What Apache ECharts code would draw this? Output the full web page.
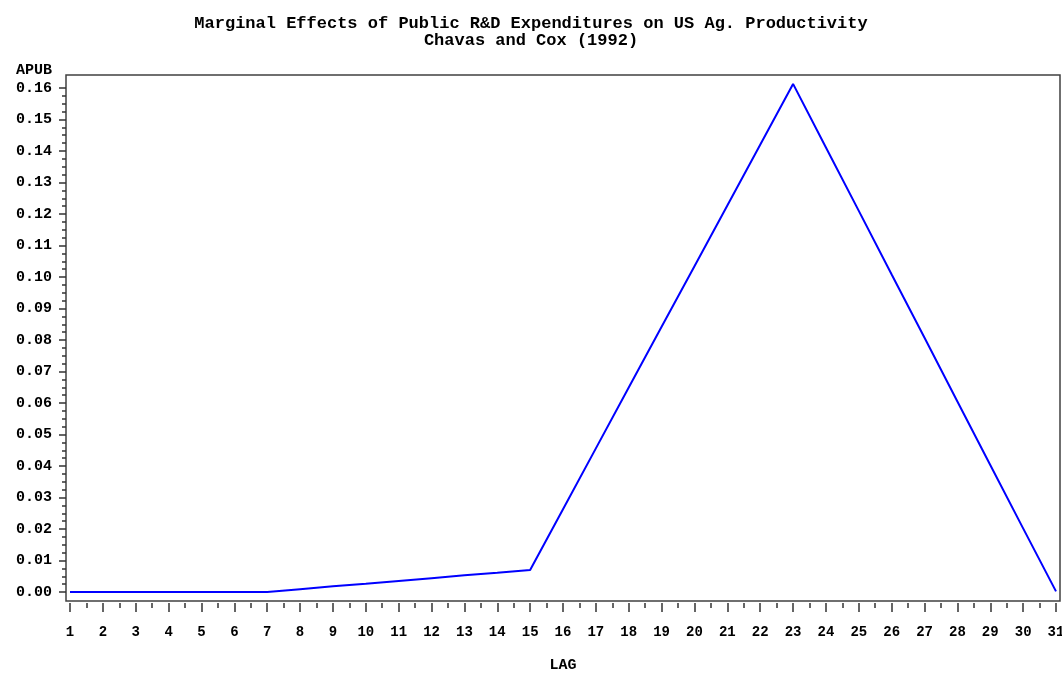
<!DOCTYPE html>
<html>
<head>
<meta charset="utf-8">
<script src="https://cdn.jsdelivr.net/npm/echarts@6/dist/echarts.min.js"></script>
<style>
html,body{margin:0;padding:0;background:#fff;}
#c{width:1062px;height:673px;}
</style>
</head>
<body>
<div id="c"></div>
<script>
const titleLines = ["Marginal Effects of Public R&D Expenditures on US Ag. Productivity", "Chavas and Cox (1992)"];
const xName = "LAG";
const yName = "APUB";
const lags = [1,2,3,4,5,6,7,8,9,10,11,12,13,14,15,16,17,18,19,20,21,22,23,24,25,26,27,28,29,30,31];
const apub = [0,0,0,0,0,0,0,0.0009,0.0018,0.0026,0.0035,0.0044,0.0053,0.0061,0.0070,
  0.0263,0.0456,0.0649,0.0842,0.1034,0.1227,0.1420,0.1613,
  0.1411,0.1210,0.1008,0.0807,0.0605,0.0403,0.0202,0.0002];

const chart = echarts.init(document.getElementById('c'));
const axisFont = {fontFamily:'Liberation Mono', fontWeight:'bold', fontSize:15, color:'#000'};
chart.setOption({
  animation:false,
  backgroundColor:'#fff',
  title:{
    text: titleLines.join('\n'),
    left:'center', top:10,
    textStyle:{fontFamily:'Liberation Mono', fontWeight:'bold', fontSize:17, color:'#000', lineHeight:17}
  },
  grid:[
    {left:70, right:6, top:88, bottom:81, outerBoundsMode:'none', containLabel:false},
    {left:66, right:2, top:75, bottom:72, outerBoundsMode:'none', containLabel:false,
     show:true, borderColor:'#404040', borderWidth:1.5, backgroundColor:'transparent'}
  ],
  xAxis:[
    {type:'value', gridIndex:0, min:1, max:31, interval:1, offset:11,
     name:xName, nameLocation:'middle', nameGap:55,
     nameTextStyle:axisFont,
     axisLine:{show:false, onZero:false},
     axisTick:{show:true, length:9, lineStyle:{color:'#333', width:1.5}},
     minorTick:{show:true, splitNumber:2, length:5, lineStyle:{color:'#333', width:1.5}},
     splitLine:{show:false},
     axisLabel:Object.assign({margin:22}, axisFont, {fontSize:14})
    },
    {type:'value', gridIndex:1, show:false, min:0, max:1}
  ],
  yAxis:[
    {type:'value', gridIndex:0, min:0, max:0.16, interval:0.01, offset:4,
     name:yName, nameLocation:'end', nameGap:10,
     nameTextStyle:Object.assign({}, axisFont, {align:'right', padding:[0,14,0,0]}),
     axisLine:{show:false, onZero:false},
     axisTick:{show:true, length:7, lineStyle:{color:'#333', width:1.5}},
     minorTick:{show:true, splitNumber:4, length:4, lineStyle:{color:'#333', width:1.5}},
     splitLine:{show:false},
     axisLabel:Object.assign({margin:14, formatter:v=>v.toFixed(2)}, axisFont)
    },
    {type:'value', gridIndex:1, show:false, min:0, max:1}
  ],
  series:[{
    type:'line', xAxisIndex:0, yAxisIndex:0,
    data: lags.map((l,i)=>[l, apub[i]]),
    showSymbol:false, symbol:'none', clip:false,
    lineStyle:{color:'#0000ff', width:2},
    z:3
  }]
});
</script>
</body>
</html>
